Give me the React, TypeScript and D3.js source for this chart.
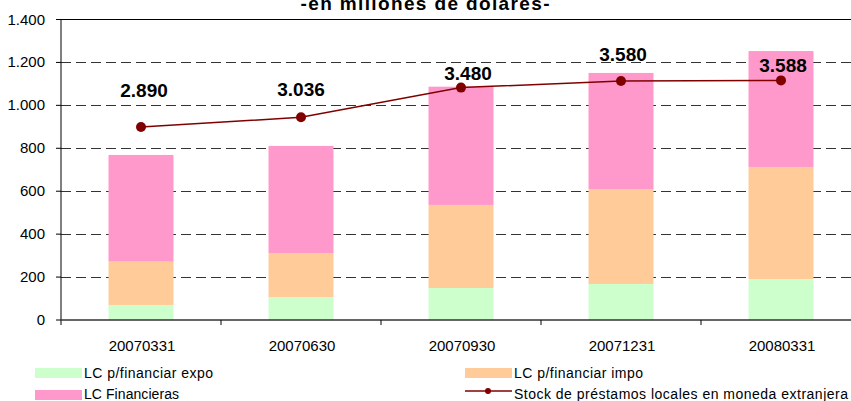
import React from 'react';
import * as d3 from 'd3';

const categories = ['20070331', '20070630', '20070930', '20071231', '20080331'];
const lcExpo = [70, 107, 149, 168, 191];
const lcImpo = [202, 205, 387, 442, 522];
const lcFinancieras = [497, 499, 551, 541, 540];
const stockLocal = [2890, 3036, 3480, 3580, 3588];
const stockLabels = ['2.890', '3.036', '3.480', '3.580', '3.588'];
const yTicks = [0, 200, 400, 600, 800, 1000, 1200, 1400];
const yTickLabels = ['0', '200', '400', '600', '800', '1.000', '1.200', '1.400'];

const seriesNames = ['LC p/financiar expo', 'LC p/financiar impo', 'LC Financieras'];
const seriesColors = ['#CCFFCC', '#FFCC99', '#FF99CC'];
const lineName = 'Stock de préstamos locales en moneda extranjera';
const lineColor = '#800000';

// manual label nudges (dx, dy) like the original sheet
const labelNudge = [[3, -30], [0, -21], [7, -8], [2, -20], [2, -8]];

const font = '"Liberation Sans", Arial, sans-serif';

export default function App() {
    const width = 851;
    const height = 401;
    const left = 61;
    const top = 19.5;
    const bottom = 320;
    const right = left + 160 * categories.length;

    const x = d3.scaleBand().domain(categories).range([left, right]).paddingInner(0.594).paddingOuter(0.297);
    const xOuter = d3.scaleBand().domain(categories).range([left, right]);
    const y = d3.scaleLinear().domain([0, 1400]).range([bottom, top]);
    const y2 = d3.scaleLinear().domain([0, 4500]).range([bottom, top]);

    const rows = categories.map((c, i) => ({ cat: c, expo: lcExpo[i], impo: lcImpo[i], fin: lcFinancieras[i] }));
    const stack = d3.stack<any>().keys(['expo', 'impo', 'fin'])(rows);

    const cx = (c: string) => (x(c) as number) + x.bandwidth() / 2;
    const line = d3.line<number>().x((_, i) => cx(categories[i])).y(d => y2(d));

    return (
        <svg width={width} height={height} style={{ position: 'absolute', left: 0, top: 0, fontFamily: font }}>
            <rect width={width} height={height} fill="white" />
            <text x={425} y={10} textAnchor="middle" fontSize={19} fontWeight="bold" textLength={249} lengthAdjust="spacing">
                -en millones de dolares-
            </text>

            {yTicks.slice(1, -1).map(t => (
                <line key={t} x1={left} x2={width} y1={Math.round(y(t)) + 0.5} y2={Math.round(y(t)) + 0.5}
                    stroke="#333" strokeDasharray="10,5" />
            ))}
            <line x1={left} x2={width} y1={top} y2={top} stroke="#000" />

            {stack.map((s, si) => (
                <g key={si} fill={seriesColors[si]}>
                    {s.map((d, i) => (
                        <rect key={i} x={x(categories[i])} width={x.bandwidth()}
                            y={y(d[1])} height={y(d[0]) - y(d[1])} />
                    ))}
                </g>
            ))}

            <line x1={left} x2={left} y1={top} y2={bottom + 5} stroke="#000" />
            {yTicks.map((t, i) => (
                <g key={t}>
                    <line x1={left - 5} x2={left} y1={y(t)} y2={y(t)} stroke="#000" />
                    <text x={45} y={y(t) + 5} textAnchor="end" fontSize={15}>{yTickLabels[i]}</text>
                </g>
            ))}
            <line x1={left} x2={width} y1={bottom} y2={bottom} stroke="#333" strokeWidth={1.5} />
            {categories.map((c, i) => (
                <g key={c}>
                    {i > 0 && <line x1={xOuter(c)} x2={xOuter(c)} y1={bottom} y2={bottom + 5} stroke="#000" />}
                    <text x={cx(c) + 1} y={350.5} textAnchor="middle" fontSize={15}>{c}</text>
                </g>
            ))}

            <path d={line(stockLocal) as string} fill="none" stroke={lineColor} strokeWidth={1.5} />
            {stockLocal.map((v, i) => (
                <g key={i}>
                    <circle cx={cx(categories[i])} cy={y2(v)} r={5} fill={lineColor} />
                    <text x={cx(categories[i]) + labelNudge[i][0]} y={y2(v) + labelNudge[i][1]}
                        textAnchor="middle" fontSize={19} fontWeight="bold">{stockLabels[i]}</text>
                </g>
            ))}

            <g fontSize={14}>
                <rect x={35} y={368} width={47} height={10} fill={seriesColors[0]} />
                <text x={84} y={378} textLength={129} lengthAdjust="spacing">{seriesNames[0]}</text>
                <rect x={465} y={368} width={47} height={10} fill={seriesColors[1]} />
                <text x={514} y={378} textLength={129} lengthAdjust="spacing">{seriesNames[1]}</text>
                <rect x={35} y={390} width={47} height={10} fill={seriesColors[2]} />
                <text x={84} y={399} textLength={95} lengthAdjust="spacing">{seriesNames[2]}</text>
                <line x1={465} x2={512} y1={391} y2={391} stroke={lineColor} strokeWidth={1.5} />
                <circle cx={488} cy={391} r={3} fill={lineColor} />
                <text x={514} y={399} textLength={334} lengthAdjust="spacing">{lineName}</text>
            </g>
        </svg>
    );
}
